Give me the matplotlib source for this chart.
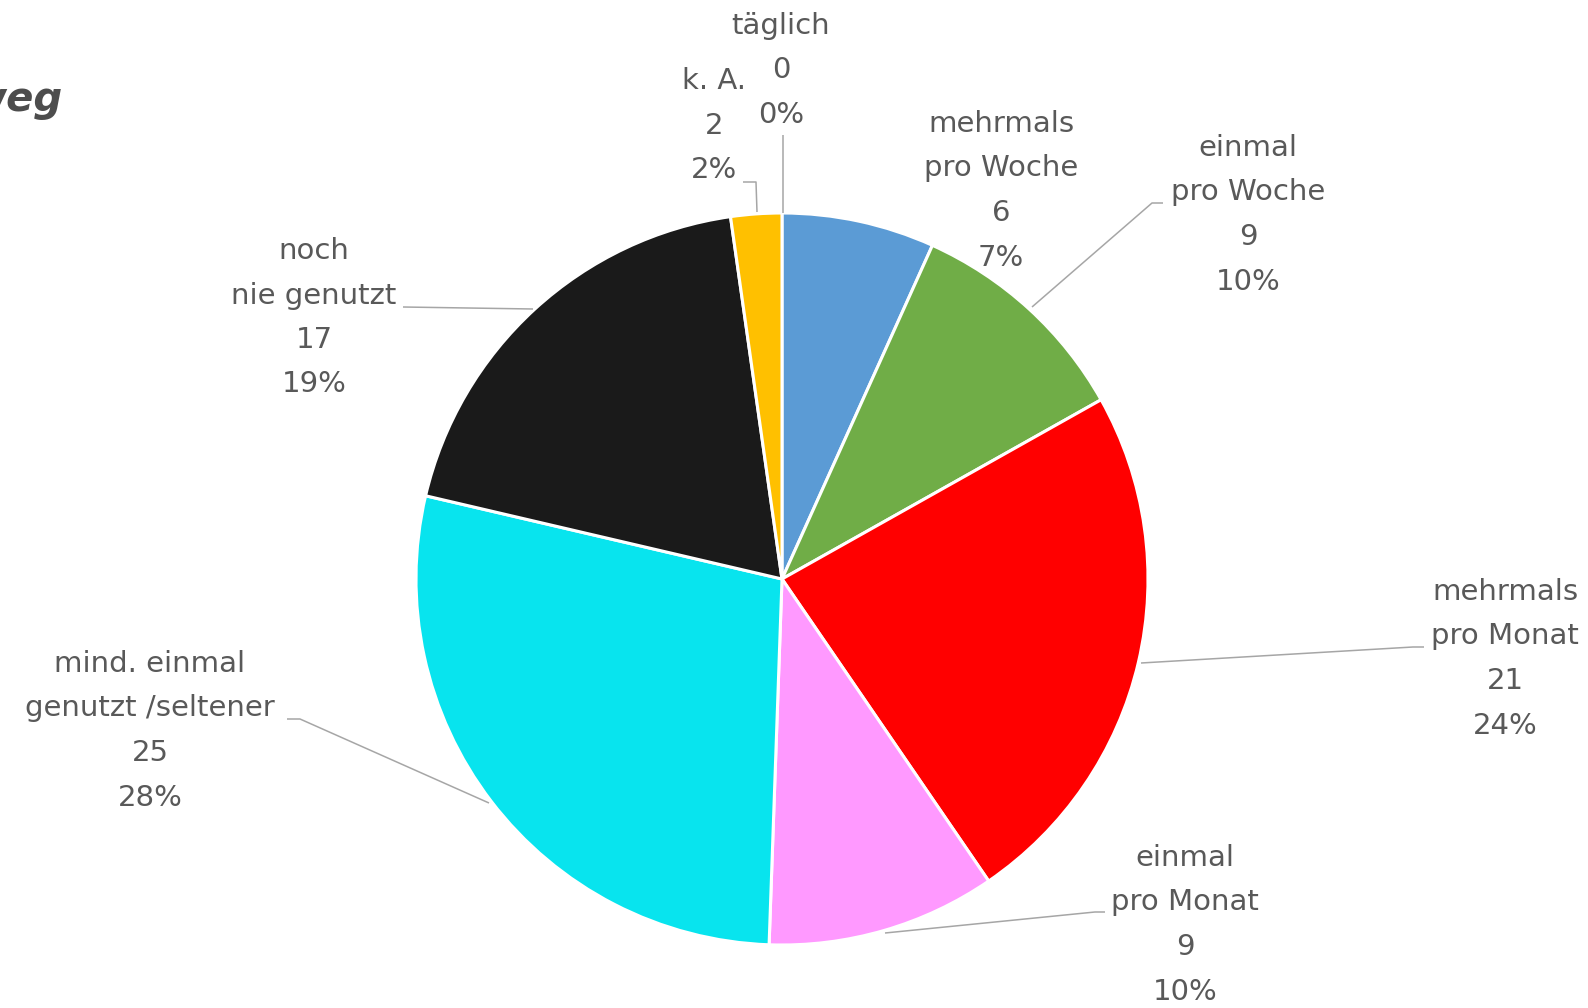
"""Pie chart: usage frequency survey (German labels)."""

import matplotlib

matplotlib.use("Agg")
import matplotlib.pyplot as plt

categories = [
    "täglich",
    "mehrmals\npro Woche",
    "einmal\npro Woche",
    "mehrmals\npro Monat",
    "einmal\npro Monat",
    "mind. einmal\ngenutzt /seltener",
    "noch\nnie genutzt",
    "k. A.",
]
counts = [0, 6, 9, 21, 9, 25, 17, 2]
colors = ["#264478", "#5B9BD5", "#70AD47", "#FF0000", "#FF99FF", "#08E4EE", "#1A1A1A", "#FFC000"]

title_text = "weg"

# layout in pixel coordinates (image y downwards, converted below)
W, H = 1588, 1008
CENTER = (782, 579)
RADIUS = 366
LINE_PITCH = 44.5
# first-line y and centre x of each label block
label_pos = [
    (781, 26), (1001, 124), (1248, 148), (1505, 592),
    (1185, 858), (150, 664), (314, 251), (714, 81),
]
# leader lines (image pixels), None where the label has none
leaders = [
    [(783, 135), (783, 213)],
    None,
    [(1163, 203), (1152, 203), (1032, 307)],
    [(1424, 647), (1413, 647), (1141, 663)],
    [(1105, 912), (1095, 912), (885, 933)],
    [(287, 719), (300, 719), (489, 803)],
    [(403, 307), (533, 309)],
    [(743, 182), (756, 182), (757, 212)],
]

TEXT_COLOR = "#595959"
LINE_COLOR = "#A6A6A6"
FONT = ["DejaVu Sans"]


def fy(y):
    return H - y


def main() -> None:
    fig = plt.figure(figsize=(W / 100, H / 100), dpi=100)
    ax = fig.add_axes([0, 0, 1, 1])

    ax.pie(
        counts,
        colors=colors,
        startangle=90,
        counterclock=False,
        center=(CENTER[0], fy(CENTER[1])),
        radius=RADIUS,
        wedgeprops={"edgecolor": "white", "linewidth": 2.2},
        frame=True,
    )
    ax.set_xlim(0, W)
    ax.set_ylim(0, H)
    ax.set_aspect("equal")
    ax.axis("off")

    total = sum(counts)
    for name, value, (x, y0), leader in zip(categories, counts, label_pos, leaders):
        lines = name.split("\n") + [str(value), f"{round(100 * value / total)}%"]
        for i, line in enumerate(lines):
            ax.text(
                x, fy(y0 + i * LINE_PITCH), line,
                ha="center", va="center", fontsize=21,
                color=TEXT_COLOR, family=FONT,
            )
        if leader:
            ax.plot([p[0] for p in leader], [fy(p[1]) for p in leader],
                    color=LINE_COLOR, linewidth=1.1, solid_capstyle="butt")

    # the title is cut off at the left edge in the source image
    ax.text(63, fy(100), title_text, ha="right", va="center", fontsize=29,
            fontweight="bold", fontstyle="italic", color="#4D4D4D", family=FONT)

    fig.savefig("out.png", dpi=100)
    plt.close(fig)


if __name__ == "__main__":
    main()
